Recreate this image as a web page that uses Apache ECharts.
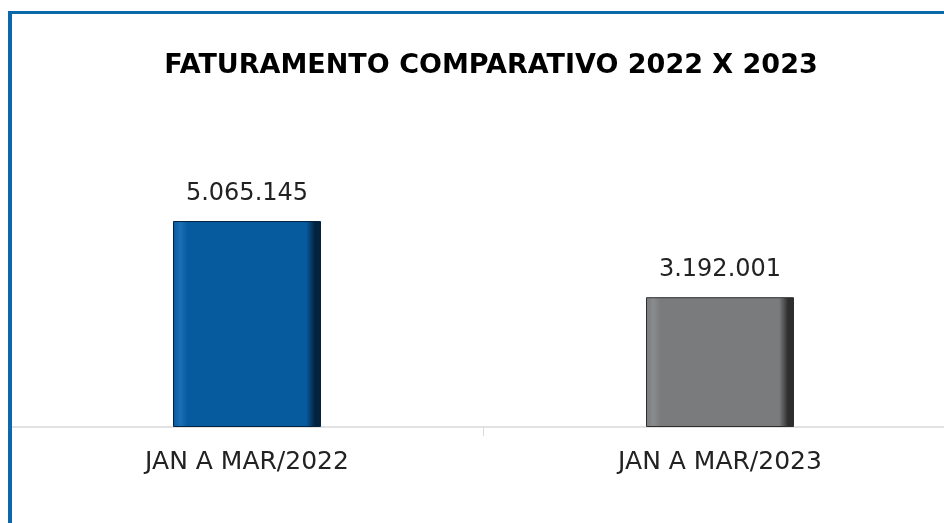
<!DOCTYPE html>
<html>
<head>
<meta charset="utf-8">
<script src="https://cdn.jsdelivr.net/npm/echarts@6/dist/echarts.min.js"></script>
<style>
  html, body { margin: 0; padding: 0; background: #fff; }
  #main { width: 944px; height: 523px; }
</style>
</head>
<body>
<div id="main"></div>
<script>
var categories = ['JAN A MAR/2022', 'JAN A MAR/2023'];
var values = [5065145, 3192001];
var barColors = [
    ['#1a70b5', '#065a9e', '#03223d'],
    ['#8a8b8d', '#7a7b7d', '#2e2e2f']
];

function fmt(v) {
    return String(v).replace(/\B(?=(\d{3})+(?!\d))/g, '.');
}

var chart = echarts.init(document.getElementById('main'));

chart.setOption({
    animation: false,
    title: {
        text: 'FATURAMENTO COMPARATIVO 2022 X 2023',
        left: 486,
        top: 47,
        textAlign: 'center',
        textStyle: {
            fontFamily: 'DejaVu Sans',
            fontWeight: 'bold',
            fontSize: 27,
            color: '#000'
        }
    },
    graphic: [
        { type: 'rect', z: 100, shape: { x: 8, y: 11, width: 4, height: 512 }, style: { fill: '#0b69a9' } },
        { type: 'rect', z: 100, shape: { x: 8, y: 11, width: 936, height: 3 }, style: { fill: '#0b69a9' } }
    ],
    grid: {
        left: 10.5,
        right: -12.5,
        top: 101.7,
        bottom: 96,
        outerBoundsMode: 'none'
    },
    xAxis: {
        type: 'category',
        data: categories,
        axisLine: { lineStyle: { color: '#d9d9d9', width: 1.5 } },
        axisTick: { show: true, length: 9, lineStyle: { color: '#d9d9d9' } },
        axisLabel: {
            margin: 23,
            fontFamily: 'DejaVu Sans',
            fontSize: 25,
            color: '#222'
        }
    },
    yAxis: {
        type: 'value',
        min: 0,
        max: 8000000,
        show: false,
        splitLine: { show: false }
    },
    series: [{
        type: 'bar',
        barWidth: 148,
        data: values.map(function (v, i) {
            var c = barColors[i];
            return {
                value: v,
                itemStyle: {
                    color: new echarts.graphic.LinearGradient(0, 0, 1, 0, [
                        { offset: 0, color: c[1] },
                        { offset: 0.05, color: c[0] },
                        { offset: 0.1, color: c[1] },
                        { offset: 0.9, color: c[1] },
                        { offset: 0.96, color: c[2] },
                        { offset: 1, color: c[2] }
                    ]),
                    borderColor: c[2],
                    borderWidth: 1
                }
            };
        }),
        label: {
            show: true,
            position: 'top',
            distance: 15,
            fontFamily: 'DejaVu Sans',
            fontSize: 24,
            color: '#222',
            formatter: function (p) { return fmt(p.value); }
        }
    }]
});
</script>
</body>
</html>
